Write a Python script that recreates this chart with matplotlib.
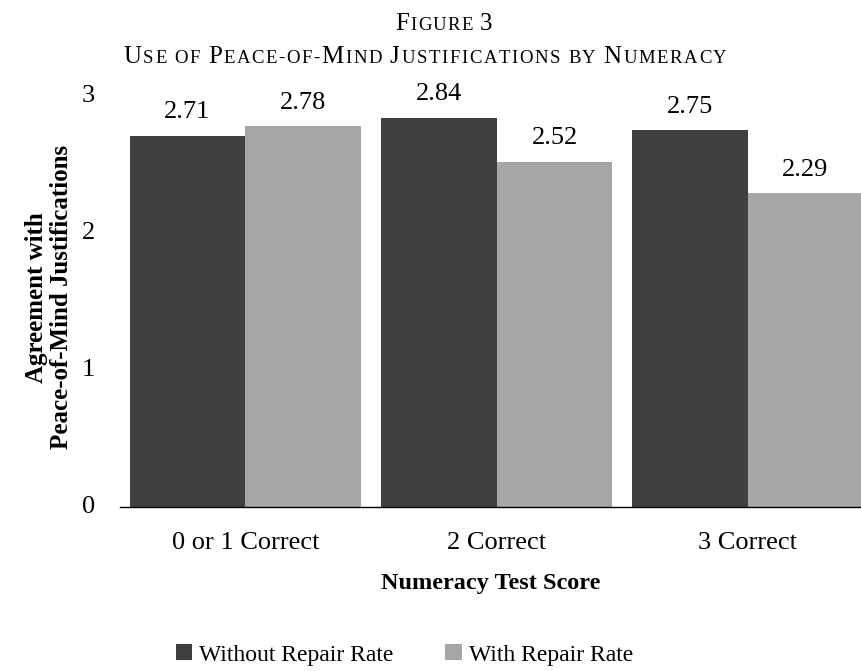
import matplotlib
matplotlib.use("Agg")
import matplotlib.pyplot as plt
import numpy as np

categories = ["0 or 1 Correct", "2 Correct", "3 Correct"]
without_repair = [2.71, 2.84, 2.75]
with_repair = [2.78, 2.52, 2.29]
series_names = ["Without Repair Rate", "With Repair Rate"]
y_ticks = [0, 1, 2, 3]

DARK = "#404040"
LIGHT = "#a6a6a6"
SERIF = ["Liberation Serif", "DejaVu Serif"]

plt.rcParams["font.family"] = SERIF

fig = plt.figure(figsize=(8.62, 6.71), dpi=100)
ax = fig.add_axes([0.1392, 0.2444, 0.8608, 0.6125])

x = np.arange(len(categories))
w = 0.462
b1 = ax.bar(x - w / 2, without_repair, w, color=DARK, label=series_names[0])
b2 = ax.bar(x + w / 2, with_repair, w, color=LIGHT, label=series_names[1])
for bars in (b1, b2):
    ax.bar_label(bars, labels=[f"{v:.2f}" for v in bars.datavalues],
                 padding=9, fontsize=19)

ax.set_xlim(-0.5, 2.456)
ax.set_ylim(0, 3)
ax.set_yticks(y_ticks)
ax.set_xticks(x)
ax.set_xticklabels(categories, fontsize=19)
ax.tick_params(axis="y", labelsize=19, length=0, pad=18)
ax.tick_params(axis="x", length=0, pad=18)
for s in ("top", "right", "left"):
    ax.spines[s].set_visible(False)
ax.spines["bottom"].set_color("black")
ax.spines["bottom"].set_linewidth(1.0)
for lbl in ax.get_yticklabels():
    lbl.set_verticalalignment("center")

ax.set_xlabel("Numeracy Test Score", fontsize=17.5, fontweight="bold", labelpad=14)
ax.set_ylabel("Agreement with\nPeace-of-Mind Justifications", fontsize=18,
              fontweight="bold", linespacing=1.12)
ax.yaxis.set_label_coords(-0.063, 0.51)

leg = fig.legend(handles=[b1, b2], labels=series_names, loc="center left",
                 bbox_to_anchor=(176 / 862, 0.024), ncol=2, frameon=False,
                 borderpad=0, borderaxespad=0,
                 fontsize=17, handlelength=0.68, handleheight=0.68,
                 handletextpad=0.3, columnspacing=2.2)


def small_caps_line(y_px, center_px, segments, tracking=0.0):
    """Draw a line of mixed-size letters with extra tracking, centered."""
    fig.canvas.draw()
    renderer = fig.canvas.get_renderer()
    pieces = []
    for s, size in segments:
        for ch in s:
            t = fig.text(0, 1 - y_px / fig.bbox.height, ch, fontsize=size,
                         va="baseline", ha="left")
            if ch == " ":
                probe = fig.text(0, 0, "n n", fontsize=size)
                probe2 = fig.text(0, 0, "nn", fontsize=size)
                wd = (probe.get_window_extent(renderer).width
                      - probe2.get_window_extent(renderer).width)
                probe.remove()
                probe2.remove()
            else:
                wd = t.get_window_extent(renderer).width
            pieces.append((t, wd))
    total = sum(wd for _, wd in pieces) + tracking * (len(pieces) - 1)
    xpos = center_px - total / 2
    for t, wd in pieces:
        t.set_x(xpos / fig.bbox.width)
        xpos += wd + tracking


BIG, SMALL = 18, 13.5
small_caps_line(30, 444, [("F", BIG), ("IGURE ", SMALL), ("3", BIG)], tracking=1.2)
small_caps_line(63, 425, [("U", BIG), ("SE OF ", SMALL), ("P", BIG), ("EACE-OF-", SMALL),
                          ("M", BIG), ("IND ", SMALL), ("J", BIG),
                          ("USTIFICATIONS BY ", SMALL), ("N", BIG), ("UMERACY", SMALL)],
                tracking=1.6)

fig.savefig("out.png", dpi=100)
